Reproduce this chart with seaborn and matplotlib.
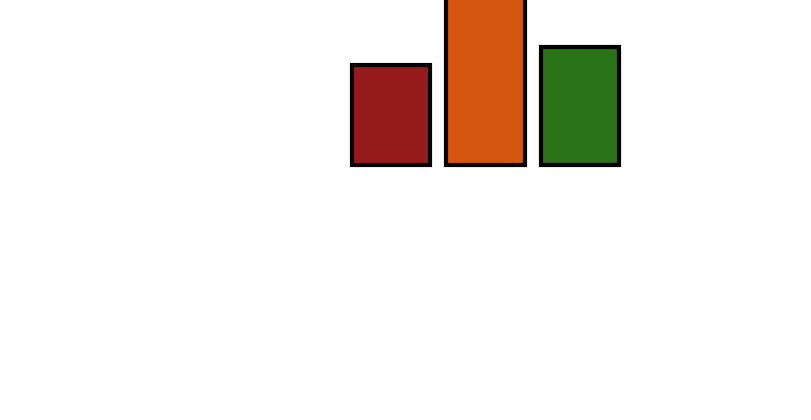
import pandas as pd
import matplotlib
matplotlib.use("Agg")
import matplotlib.pyplot as plt
import seaborn as sns

sns.set_style("white")

# values (arbitrary units, orange runs past the top)
categories = ["A", "B", "C"]
values = [100, 180, 118]
bar_colors = ["#951b1d", "#d4560f", "#2a7217"]

df = pd.DataFrame({"category": categories, "value": values})

fig = plt.figure(figsize=(8.12, 4.2), dpi=100)
ax = fig.add_axes([300 / 812, (420 - 168) / 420, 400 / 812, 168 / 420])

sns.barplot(
    data=df, x="category", y="value", hue="category",
    palette=bar_colors, legend=False, width=0.83, saturation=1,
    edgecolor="black", linewidth=3, ax=ax,
)

ax.set_xlim(-91 / 94.5, 309 / 94.5)
ax.set_ylim(-3, 165)
ax.axis("off")

fig.savefig("out.png", dpi=100, facecolor="white")
